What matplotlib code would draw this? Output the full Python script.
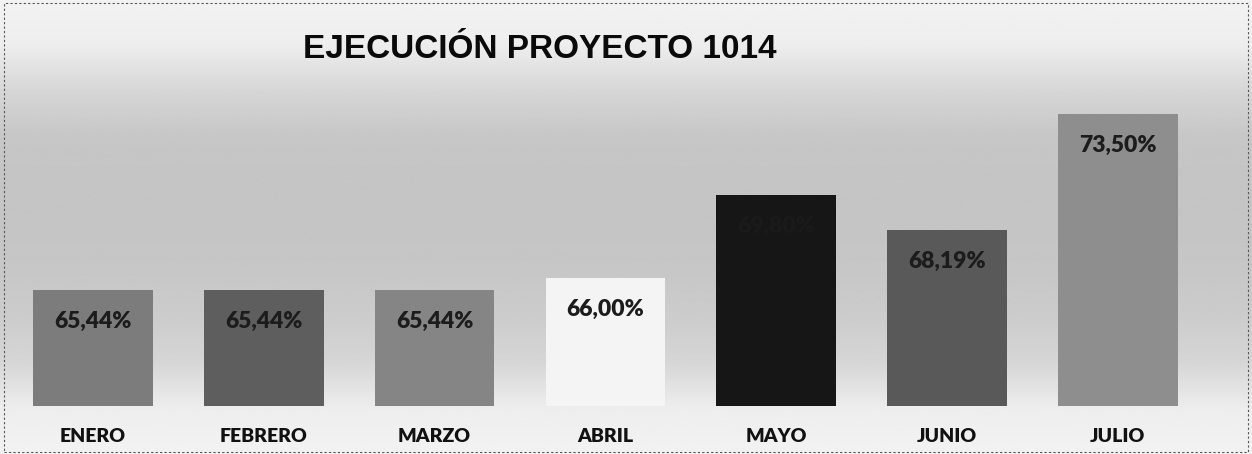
import matplotlib
matplotlib.use("Agg")
import matplotlib.pyplot as plt
import numpy as np
from matplotlib.patches import Rectangle

categories = ["ENERO", "FEBRERO", "MARZO", "ABRIL", "MAYO", "JUNIO", "JULIO"]
values = [65.44, 65.44, 65.44, 66.00, 69.80, 68.19, 73.50]
labels = ["65,44%", "65,44%", "65,44%", "66,00%", "69,80%", "68,19%", "73,50%"]
colors = ["#7c7c7c", "#5e5e5e", "#858585", "#f4f4f4", "#161616", "#595959", "#8e8e8e"]
label_colors = ["#1c1c1c", "#1c1c1c", "#1c1c1c", "#1c1c1c", "#1a1a1a", "#1c1c1c", "#1c1c1c"]
title = "EJECUCIÓN PROYECTO 1014"

W, H = 1252, 454
fig = plt.figure(figsize=(W / 100, H / 100), dpi=100)

# background gradient
bg = fig.add_axes([0, 0, 1, 1])
bg.set_axis_off()
rows = np.array([0.95, 0.93, 0.84, 0.78, 0.77, 0.77, 0.78, 0.80, 0.84, 0.93, 0.95])
grad = np.interp(np.linspace(0, 1, 200), np.linspace(0, 1, len(rows)), rows)
bg.imshow(grad[:, None], aspect="auto", cmap="gray", vmin=0, vmax=1,
          extent=[0, 1, 0, 1], origin="upper")
bg.set_xlim(0, 1)
bg.set_ylim(0, 1)
bg.add_patch(Rectangle((0.003, 0.004), 0.994, 0.99, fill=False, ec="#555555",
                       lw=0.8, ls=(0, (2, 2)), transform=bg.transAxes))

# main axes positioned in pixels
base_px = 406
ax = fig.add_axes([0, (H - base_px) / H, 1, base_px / H])
ax.patch.set_alpha(0)
ymin = 60.12
px_per_pct = 21.84
ax.set_ylim(ymin, ymin + base_px / px_per_pct)
spacing = 170.8
c0 = 93
ax.set_xlim(-c0 / spacing, (W - c0) / spacing)

x = np.arange(len(categories))
bars = ax.bar(x, [v - ymin for v in values], bottom=ymin, width=0.70,
              color=colors, edgecolor="none")

for xi, v, lab, lc in zip(x, values, labels, label_colors):
    ax.annotate(lab, (xi, v), xytext=(0, -23), textcoords="offset points",
                ha="center", va="center", fontsize=16.5, fontweight="heavy",
                family="Lato", color=lc)

ax.set_xticks(x)
ax.set_xticklabels(categories, fontsize=14, fontweight="heavy", family="Lato",
                   color="#111111")
ax.tick_params(axis="x", length=0, pad=16)
ax.tick_params(axis="y", left=False, labelleft=False)
for s in ax.spines.values():
    s.set_visible(False)

fig.text(540 / W, 1 - 50 / H, title, ha="center", va="center",
         fontsize=24, fontweight="bold", family="Liberation Sans", color="#0a0a0a")

fig.savefig("out.png", dpi=100)
